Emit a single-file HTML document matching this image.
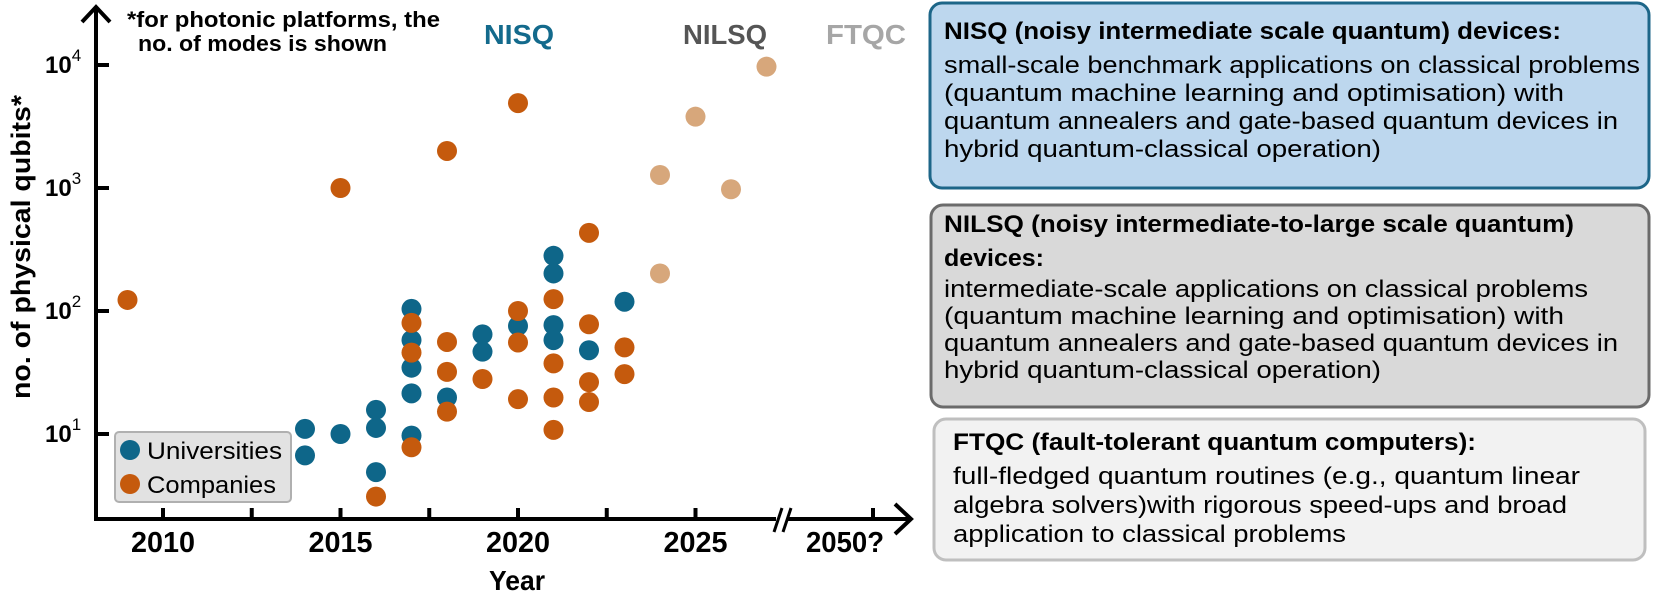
<!DOCTYPE html>
<html>
<head>
<meta charset="utf-8">
<style>
  html,body{margin:0;padding:0;background:#fff;}
  svg{display:block;font-family:"Liberation Sans",sans-serif;}
</style>
</head>
<body>
<svg id="chart" width="1654" height="600" viewBox="0 0 1654 600" xmlns="http://www.w3.org/2000/svg">
  <g id="axes" stroke="#000" stroke-width="4" fill="none" stroke-linecap="butt">
    <line x1="96" y1="521" x2="96" y2="8"/>
    <polyline points="82,22 96,7 110,22" stroke-linejoin="miter"/>
    <line x1="94" y1="519" x2="910" y2="519"/>
    <polyline points="895,504 911,519 895,534"/>
    <g>
      <rect x="776" y="505" width="12" height="28" fill="#fff" stroke="none"/>
      <line x1="774" y1="532" x2="782" y2="508" stroke-width="3"/>
      <line x1="783" y1="532" x2="791" y2="508" stroke-width="3"/>
    </g>
  </g>
  <g id="ticks"></g>
  <g id="dots"></g>

  <text font-weight="bold" font-size="22" fill="#000">
    <tspan x="127" y="27" textLength="313" lengthAdjust="spacingAndGlyphs">*for photonic platforms, the</tspan>
    <tspan x="138" y="51" textLength="249" lengthAdjust="spacingAndGlyphs">no. of modes is shown</tspan>
  </text>
  <text x="484" y="44" font-weight="bold" font-size="28" fill="#136a8c" textLength="70" lengthAdjust="spacingAndGlyphs">NISQ</text>
  <text x="683" y="44" font-weight="bold" font-size="28" fill="#555555" textLength="84" lengthAdjust="spacingAndGlyphs">NILSQ</text>
  <text x="826" y="44" font-weight="bold" font-size="28" fill="#a6a6a6" textLength="80" lengthAdjust="spacingAndGlyphs">FTQC</text>

  <text transform="translate(30,247) rotate(-90)" text-anchor="middle" font-weight="bold" font-size="27" fill="#000" textLength="304" lengthAdjust="spacingAndGlyphs">no. of physical qubits*</text>
  <text x="517" y="590" text-anchor="middle" font-weight="bold" font-size="28" fill="#000" textLength="56" lengthAdjust="spacingAndGlyphs">Year</text>

  <g>
    <rect x="115" y="432" width="176" height="70" rx="4" fill="#e2e2e2" stroke="#b0b0b0" stroke-width="2"/>
    <circle cx="130" cy="450" r="10" fill="#0e6689"/>
    <text x="147" y="459" font-size="24" fill="#000" textLength="135" lengthAdjust="spacingAndGlyphs">Universities</text>
    <circle cx="130" cy="484" r="10" fill="#c55a0d"/>
    <text x="147" y="493" font-size="24" fill="#000" textLength="129" lengthAdjust="spacingAndGlyphs">Companies</text>
  </g>

  <g>
    <rect x="930" y="3" width="719" height="185" rx="12" fill="#bdd7ee" stroke="#1d6688" stroke-width="3"/>
    <text font-size="24" fill="#000">
      <tspan x="944" y="39" font-weight="bold" textLength="617" lengthAdjust="spacingAndGlyphs">NISQ (noisy intermediate scale quantum) devices:</tspan>
      <tspan x="944" y="73" textLength="696" lengthAdjust="spacingAndGlyphs">small-scale benchmark applications on classical problems</tspan>
      <tspan x="944" y="101" textLength="620" lengthAdjust="spacingAndGlyphs">(quantum machine learning and optimisation) with</tspan>
      <tspan x="944" y="129" textLength="674" lengthAdjust="spacingAndGlyphs">quantum annealers and gate-based quantum devices in</tspan>
      <tspan x="944" y="157" textLength="437" lengthAdjust="spacingAndGlyphs">hybrid quantum-classical operation)</tspan>
    </text>
  </g>
  <g>
    <rect x="931" y="205" width="718" height="202" rx="12" fill="#d9d9d9" stroke="#6b6b6b" stroke-width="3"/>
    <text font-size="24" fill="#000">
      <tspan x="944" y="232" font-weight="bold" textLength="630" lengthAdjust="spacingAndGlyphs">NILSQ (noisy intermediate-to-large scale quantum)</tspan>
      <tspan x="944" y="266" font-weight="bold" textLength="100" lengthAdjust="spacingAndGlyphs">devices:</tspan>
      <tspan x="944" y="297" textLength="644" lengthAdjust="spacingAndGlyphs">intermediate-scale applications on classical problems</tspan>
      <tspan x="944" y="324" textLength="620" lengthAdjust="spacingAndGlyphs">(quantum machine learning and optimisation) with</tspan>
      <tspan x="944" y="351" textLength="674" lengthAdjust="spacingAndGlyphs">quantum annealers and gate-based quantum devices in</tspan>
      <tspan x="944" y="378" textLength="437" lengthAdjust="spacingAndGlyphs">hybrid quantum-classical operation)</tspan>
    </text>
  </g>
  <g>
    <rect x="934" y="419" width="711" height="141" rx="12" fill="#f2f2f2" stroke="#bfbfbf" stroke-width="3"/>
    <text font-size="24" fill="#000">
      <tspan x="953" y="450" font-weight="bold" textLength="523" lengthAdjust="spacingAndGlyphs">FTQC (fault-tolerant quantum computers):</tspan>
      <tspan x="953" y="484" textLength="627" lengthAdjust="spacingAndGlyphs">full-fledged quantum routines (e.g., quantum linear</tspan>
      <tspan x="953" y="513" textLength="614" lengthAdjust="spacingAndGlyphs">algebra solvers)with rigorous speed-ups and broad</tspan>
      <tspan x="953" y="542" textLength="393" lengthAdjust="spacingAndGlyphs">application to classical problems</tspan>
    </text>
  </g>
</svg>
<script>
// ---- data ----
const uniYears  = [2014,2014,2015,2016,2016,2016,2017,2017,2017,2017,2017,2018,2019,2019,2020,2021,2021,2021,2021,2022,2023];
const uniQubits = [11,6.7,10,15.7,11.2,4.9,104,58,34.6,21.4,9.7,19.8,64.6,46.7,75.6,281,202,76.8,58,48,119];
const compYears  = [2009,2015,2016,2017,2017,2017,2018,2018,2018,2018,2019,2020,2020,2020,2020,2021,2021,2021,2021,2022,2022,2022,2022,2023,2023];
const compQubits = [123,1000,3.1,80,45.9,7.8,2000,56,32,15.2,28,4900,100,55.5,19.2,125,37.5,19.8,10.8,432,78,26.4,18.2,50.6,30.7];
const roadmapYears  = [2024,2024,2025,2026,2027];
const roadmapQubits = [1276,202,3800,977,9690];
const xTickYears = [2010,2012.5,2015,2017.5,2020,2022.5,2025];
const xTickLabels = ["2010","","2015","","2020","","2025"];
const yTickExponents = [1,2,3,4];

function xScale(year){ return 163 + (year - 2010) * 35.5; }
function yScale(v){ return 434 - (Math.log10(v) - 1) * 123; }

const NS = "http://www.w3.org/2000/svg";
const ticks = document.getElementById('ticks');
const dots = document.getElementById('dots');

function mk(tag, attrs, parent){
  const el = document.createElementNS(NS, tag);
  for (const k in attrs) el.setAttribute(k, attrs[k]);
  parent.appendChild(el);
  return el;
}

xTickYears.forEach((yr, i) => {
  const x = xScale(yr);
  const t = mk('line', {x1:x, y1:519, x2:x, y2:508, stroke:'#000', 'stroke-width':4}, ticks);
  
  
  if (xTickLabels[i]) {
    const lb = mk('text', {x:x, y:552, 'text-anchor':'middle', 'font-weight':'bold', 'font-size':29, textLength:64, lengthAdjust:'spacingAndGlyphs'}, ticks);
    lb.textContent = xTickLabels[i];
    
    
  }
});
const t50 = mk('line', {x1:873, y1:519, x2:873, y2:508, stroke:'#000', 'stroke-width':4}, ticks);


const l50 = mk('text', {x:806, y:552, 'font-weight':'bold', 'font-size':29, textLength:78, lengthAdjust:'spacingAndGlyphs'}, ticks);
l50.textContent = "2050?";



yTickExponents.forEach(e => {
  const y = yScale(Math.pow(10, e));
  const t = mk('line', {x1:96, y1:y, x2:109, y2:y, stroke:'#000', 'stroke-width':4}, ticks);
  
  
  const lb = mk('text', {x:45, y:y + 8, 'font-weight':'bold', 'font-size':24}, ticks);
  
  
  const a = mk('tspan', {}, lb); a.textContent = "10";
  const b = mk('tspan', {dy:-12, 'font-size':17, 'font-weight':'normal'}, lb); b.textContent = String(e);
});

function plot(years, vals, color, name){
  years.forEach((yr, i) => {
    const c = mk('ellipse', {cx:xScale(yr), cy:yScale(vals[i]), rx:10, ry:10, fill:color}, dots);
    
    
  });
}
plot(roadmapYears, roadmapQubits, '#d7a77b', 'roadmap-point');
plot(uniYears, uniQubits, '#0e6689', 'university-point');
plot(compYears, compQubits, '#c55a0d', 'company-point');
</script>
</body>
</html>
